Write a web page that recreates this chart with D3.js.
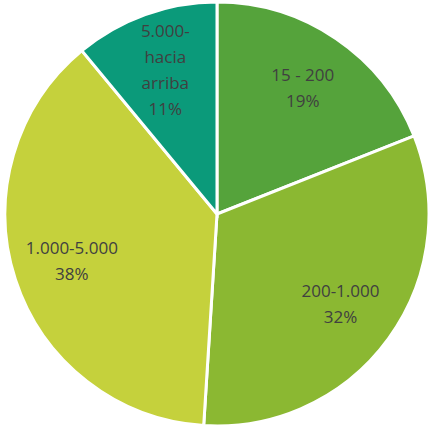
<!DOCTYPE html>
<html>
<head>
<meta charset="utf-8">
<script src="https://cdn.jsdelivr.net/npm/d3@7"></script>
<style>
  body { margin: 0; background: #fff; }
  text { font-family: "Open Sans", "Liberation Sans", sans-serif; font-size: 17px; fill: #404040; }
</style>
</head>
<body>
<div id="chart"></div>
<script>
// slices, clockwise from 12 o'clock
const categories = ["15 - 200", "200-1.000", "1.000-5.000", "5.000-\nhacia\narriba"];
const values = [19, 32, 38, 11];
const colors = ["#55a33b", "#8bb832", "#c5d13c", "#0b9a7a"];

const width = 431, height = 430;
const cx = 217, cy = 214, radius = 212;

const svg = d3.select("#chart").append("svg")
    .attr("width", width)
    .attr("height", height);

const g = svg.append("g").attr("transform", `translate(${cx},${cy})`);

const pie = d3.pie().sort(null).value(d => d.value);
const arcs = pie(values.map((v, i) => ({ value: v, name: categories[i], color: colors[i] })));

const arc = d3.arc().innerRadius(0).outerRadius(radius);
const labelArc = d3.arc().innerRadius(radius * 0.72).outerRadius(radius * 0.72);

g.selectAll("path")
    .data(arcs)
    .join("path")
    .attr("d", arc)
    .attr("fill", d => d.data.color)
    .attr("stroke", "#fff")
    .attr("stroke-width", 3);

const lineH = 26;
g.selectAll("text")
    .data(arcs)
    .join("text")
    .attr("text-anchor", "middle")
    .each(function (d) {
        const [x, y] = labelArc.centroid(d);
        const lines = d.data.name.split("\n").concat(d.data.value + "%");
        const y0 = y - (lines.length - 1) * lineH / 2;
        d3.select(this).selectAll("tspan")
            .data(lines)
            .join("tspan")
            .attr("x", x)
            .attr("y", (l, i) => y0 + i * lineH)
            .attr("dy", "0.35em")
            .text(l => l);
    });
</script>
</body>
</html>
